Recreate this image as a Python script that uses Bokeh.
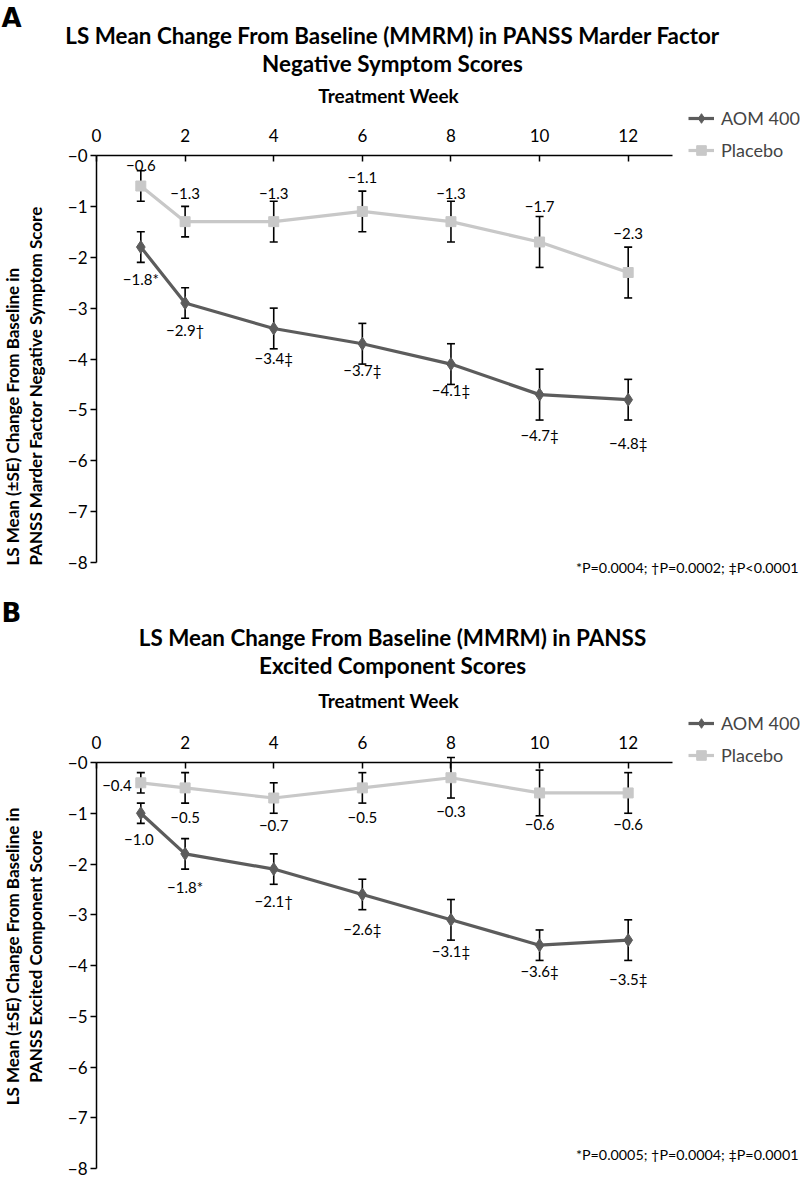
from math import pi
from bokeh.plotting import figure
from bokeh.models import (Range1d, FixedTicker, Label, Legend, LegendItem,
                          ColumnDataSource, Whisker, TeeHead)
from bokeh.layouts import column
from bokeh.embed import file_html
from bokeh.resources import INLINE
from bokeh.core.properties import value

# ---------------- data ----------------
weeks = [1, 2, 4, 6, 8, 10, 12]

a_aom_mean = [-1.8, -2.9, -3.4, -3.7, -4.1, -4.7, -4.8]
a_aom_se = [0.3, 0.3, 0.4, 0.4, 0.4, 0.5, 0.4]
a_aom_marks = ["*", "†", "‡", "‡", "‡", "‡", "‡"]
a_pbo_mean = [-0.6, -1.3, -1.3, -1.1, -1.3, -1.7, -2.3]
a_pbo_se = [0.3, 0.3, 0.4, 0.4, 0.4, 0.5, 0.5]

b_aom_mean = [-1.0, -1.8, -2.1, -2.6, -3.1, -3.6, -3.5]
b_aom_se = [0.2, 0.3, 0.3, 0.3, 0.4, 0.3, 0.4]
b_aom_marks = ["", "*", "†", "‡", "‡", "‡", "‡"]
b_pbo_mean = [-0.4, -0.5, -0.7, -0.5, -0.3, -0.6, -0.6]
b_pbo_se = [0.2, 0.3, 0.3, 0.3, 0.4, 0.45, 0.4]

x_ticks = [0, 2, 4, 6, 8, 10, 12]
x_tick_labels = ["0", "2", "4", "6", "8", "10", "12"]
y_ticks = [0, -1, -2, -3, -4, -5, -6, -7, -8]
y_tick_labels = {t: "\u2212%d" % abs(t) for t in y_ticks}

series_names = ["AOM 400", "Placebo"]

# label placement (pixels from the marker), kept apart from the data
a_aom_dy = [31.7, 27.4, 29.3, 26.7, 26.3, 40.8, 43.4]
a_pbo_dy = [-20.5, -28.5, -28.5, -34.3, -28.0, -35.5, -38.7]
b_aom_dy = [26.6, 33.3, 32.1, 35.0, 30.7, 25.3, 38.7]
b_pbo_dy = [2.7, 29.3, 27.5, 29.3, 33.5, 31.5, 31.5]
b_aom_dx = [-2, 0, 0, 0, 0, 0, 0]
b_pbo_dx = [-9, 0, 0, 0, 0, 0, 0]
b_pbo_align = ["right", "center", "center", "center", "center", "center", "center"]

AOM_COLOR = "#5c5c5c"
PBO_COLOR = "#c8c8c8"
FONT = "Lato"
W = 800
X0_PX = 96    # page x of week 0
X13_PX = 672  # page x of week 13 (end of axis line)


def fmt(v, mark=""):
    return "\u2212%.1f%s" % (abs(v), mark)


def make_panel(page_top, page_bot, y0_px, y8_px, letter, title_lines, title_ys,
               aom_mean, aom_se, aom_marks, aom_dy, aom_dx,
               pbo_mean, pbo_se, pbo_dy, pbo_dx, pbo_align,
               ylab_lines, ylab_align, ylab_y, foot, foot_y, legend_top):
    height = page_bot - page_top
    kx = (X13_PX - X0_PX) / 13.0
    ky = (y8_px - y0_px) / 8.0
    xr = Range1d(-X0_PX / kx, (W - X0_PX) / kx)
    yr = Range1d(-8 - (page_bot - y8_px) / ky, (y0_px - page_top) / ky)
    p = figure(width=W, height=height, x_range=xr, y_range=yr,
               x_axis_location="above", y_axis_location="left",
               output_backend="svg", toolbar_location=None, min_border=0)
    p.outline_line_color = None
    p.xgrid.visible = False
    p.ygrid.visible = False
    p.background_fill_color = "white"

    xa = p.xaxis[0]
    xa.fixed_location = 0
    xa.bounds = (0, 13)
    xa.ticker = FixedTicker(ticks=x_ticks)
    xa.major_tick_in = 6
    xa.major_tick_out = 0
    xa.minor_tick_line_color = None
    xa.axis_line_width = 1.5
    xa.major_tick_line_width = 1.5
    xa.major_label_text_color = None
    # week numbers drawn above the axis line through the same scale
    p.text(x=x_ticks, y=[0] * len(x_ticks), text=x_tick_labels, y_offset=-20,
           text_align="center", text_baseline="middle", text_font=value(FONT),
           text_font_size=value("17px"), text_color="black")

    ya = p.yaxis[0]
    ya.fixed_location = 0
    ya.bounds = (-8, 0)
    ya.ticker = FixedTicker(ticks=y_ticks)
    ya.major_label_overrides = y_tick_labels
    ya.major_tick_in = 0
    ya.major_tick_out = 6
    ya.minor_tick_line_color = None
    ya.axis_line_width = 1.5
    ya.major_tick_line_width = 1.5
    ya.major_label_text_font = FONT
    ya.major_label_text_font_size = "17px"
    ya.major_label_text_color = "black"
    ya.major_label_standoff = 3

    # error bars
    for mean, se in ((pbo_mean, pbo_se), (aom_mean, aom_se)):
        src = ColumnDataSource(dict(x=weeks, upper=[m + s for m, s in zip(mean, se)],
                                    lower=[m - s for m, s in zip(mean, se)]))
        p.add_layout(Whisker(source=src, base="x", upper="upper", lower="lower",
                             line_color="black", line_width=1.6,
                             upper_head=TeeHead(size=8, line_width=1.6, line_color="black"),
                             lower_head=TeeHead(size=8, line_width=1.6, line_color="black")))

    pl = p.line(weeks, pbo_mean, line_color=PBO_COLOR, line_width=3.2)
    ps = p.scatter(weeks, pbo_mean, marker="square", size=10, fill_color=PBO_COLOR, line_color=PBO_COLOR)
    al = p.line(weeks, aom_mean, line_color=AOM_COLOR, line_width=3.2)
    asc = p.scatter(weeks, aom_mean, marker="diamond", size=13, fill_color=AOM_COLOR, line_color=AOM_COLOR)

    # value labels
    lab_src = ColumnDataSource(dict(
        x=weeks + weeks,
        y=list(pbo_mean) + list(aom_mean),
        t=[fmt(v) for v in pbo_mean] + [fmt(v, m) for v, m in zip(aom_mean, aom_marks)],
        dy=list(pbo_dy) + list(aom_dy),
        dx=list(pbo_dx) + list(aom_dx),
        al=list(pbo_align) + ["center"] * len(weeks),
    ))
    p.text(x="x", y="y", text="t", source=lab_src, x_offset="dx", y_offset="dy",
           text_align="al", text_baseline="middle", text_font=value(FONT),
           text_font_size=value("15px"), text_color="black")

    legend = Legend(items=[LegendItem(label=series_names[0], renderers=[al, asc]),
                           LegendItem(label=series_names[1], renderers=[pl, ps])],
                    location=(688, page_bot - (legend_top + 56)), padding=0, margin=0,
                    border_line_color=None, background_fill_alpha=0,
                    glyph_width=26, glyph_height=24, spacing=8, label_standoff=7,
                    label_text_font=FONT, label_text_font_size="18px")
    p.add_layout(legend)

    def lab(px, py, text, size, bold=False, align="center", angle=0.0, baseline="middle", font=FONT):
        p.add_layout(Label(x=px, y=page_bot - py, x_units="screen", y_units="screen",
                           text=text, text_font=font, text_font_size="%gpx" % size,
                           text_font_style="bold" if bold else "normal",
                           text_align=align, text_baseline=baseline, angle=angle,
                           text_color="black"))

    lab(1, title_ys[0], letter, 26, bold=True, align="left", baseline="top", font="DejaVu Sans")
    for t, ty in zip(title_lines, title_ys[1:3]):
        lab(392, ty, t, 22.4, bold=True)
    lab(388, title_ys[3], "Treatment Week", 19, bold=True)
    lab(12, ylab_y, ylab_lines[0], 17, bold=True, align=ylab_align, angle=pi / 2)
    lab(35, ylab_y, ylab_lines[1], 17, bold=True, align=ylab_align, angle=pi / 2)
    lab(798, foot_y, foot, 14.3, align="right")
    return p


pA = make_panel(0, 588, 155, 562, "A",
                ["LS Mean Change From Baseline (MMRM) in PANSS Marder Factor",
                 "Negative Symptom Scores"], [2, 35, 63, 95],
                a_aom_mean, a_aom_se, a_aom_marks, a_aom_dy, [0] * 7,
                a_pbo_mean, a_pbo_se, a_pbo_dy, [0] * 7, ["center"] * 7,
                ["LS Mean (\u00b1SE) Change From Baseline in",
                 "PANSS Marder Factor Negative Symptom Score"], "left", 565,
                "*P=0.0004; \u2020P=0.0002; \u2021P<0.0001", 567, 106)

pB = make_panel(588, 1180, 762, 1168, "B",
                ["LS Mean Change From Baseline (MMRM) in PANSS",
                 "Excited Component Scores"], [597, 637, 665, 700],
                b_aom_mean, b_aom_se, b_aom_marks, b_aom_dy, b_aom_dx,
                b_pbo_mean, b_pbo_se, b_pbo_dy, b_pbo_dx, b_pbo_align,
                ["LS Mean (\u00b1SE) Change From Baseline in",
                 "PANSS Excited Component Score"], "center", 956,
                "*P=0.0005; \u2020P=0.0004; \u2021P=0.0001", 1154, 711)

layout = column(pA, pB, spacing=0)
open("out.html", "w").write(file_html(layout, INLINE))
